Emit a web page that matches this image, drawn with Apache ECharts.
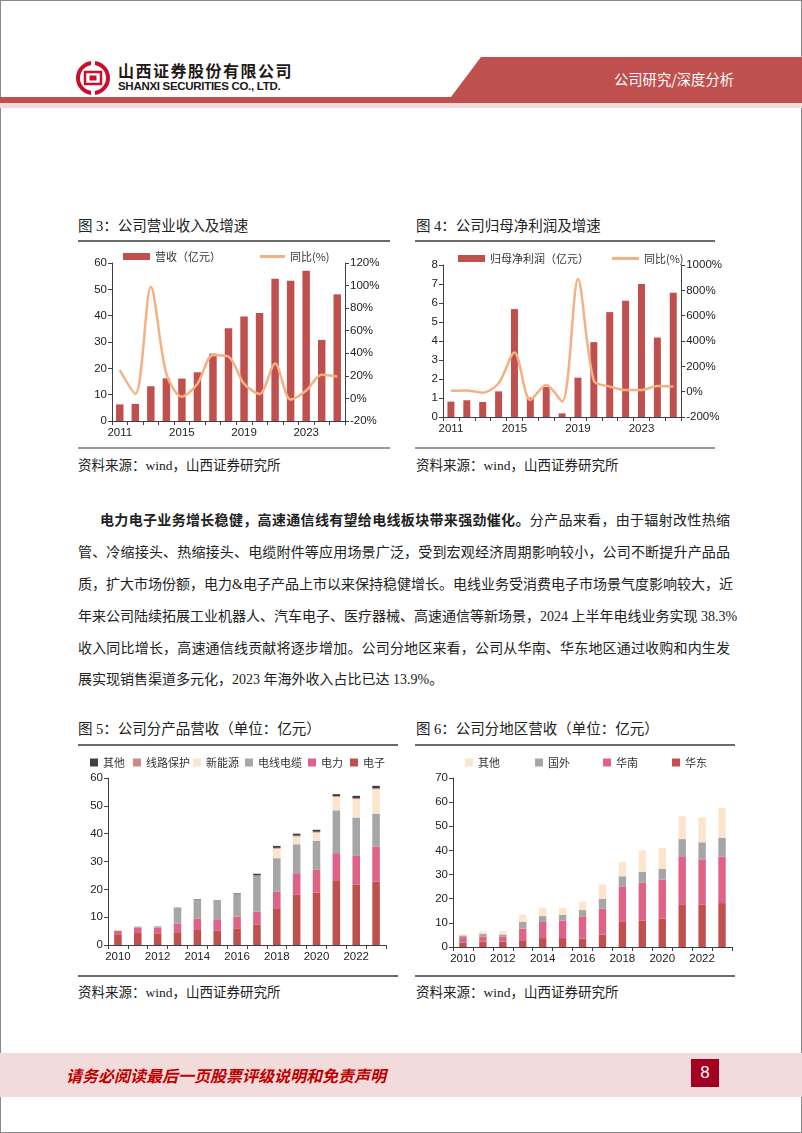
<!DOCTYPE html>
<html><head><meta charset="utf-8">
<script src="https://cdn.jsdelivr.net/npm/echarts@6/dist/echarts.min.js"></script>
<style>
html,body{margin:0;padding:0;}
body{width:802px;height:1133px;position:relative;background:#fff;overflow:hidden;font-family:"Liberation Serif","Noto Sans CJK SC",serif;color:#222;}
.frame{position:absolute;left:0;top:0;width:800px;height:1131px;border:1px solid #8a8a8a;}
.abs{position:absolute;}
.title{position:absolute;font-size:14.5px;line-height:16px;white-space:nowrap;}
.src{position:absolute;font-size:13.5px;line-height:16px;white-space:nowrap;}
.rule{position:absolute;height:2px;background:#6b6b6b;}
.rule2{position:absolute;height:2px;background:#9a9a9a;}
.para{position:absolute;left:78px;width:652px;font-size:14px;line-height:18px;white-space:nowrap;text-align:justify;text-align-last:justify;}
.chart{position:absolute;}
</style></head>
<body>
<div class="frame"></div>
<!-- header -->
<svg class="abs" style="left:0;top:0" width="802" height="112">
  <polygon points="481,57 802,57 802,97 451,97" fill="#c0504d"/>
  <rect x="0" y="97" width="802" height="6" fill="#c0504d"/>
  <rect x="0" y="103" width="802" height="5" fill="#f2dcdb"/>
  <g transform="translate(93,78)">
    <circle r="15" fill="none" stroke="#c8102e" stroke-width="4"/>
    <rect x="-9" y="-9" width="18" height="18" fill="#fff"/>
    <rect x="-8" y="-6" width="16" height="12" fill="none" stroke="#c8102e" stroke-width="2.5"/>
    <rect x="-3.5" y="-2.5" width="7" height="5" fill="#c8102e"/>
    <rect x="-2" y="-17" width="4" height="8" fill="#fff"/>
    <rect x="-2" y="9" width="4" height="8" fill="#fff"/>
  </g>
</svg>
<div class="abs" style="left:118px;top:61px;font-family:'Noto Sans CJK SC';font-weight:bold;font-size:16px;letter-spacing:1.5px;line-height:18px;color:#231815;white-space:nowrap;">山西证券股份有限公司</div>
<div class="abs" style="left:118px;top:80px;font-family:'Liberation Sans';font-weight:bold;font-size:11.5px;letter-spacing:-0.3px;line-height:13px;color:#231815;white-space:nowrap;">SHANXI SECURITIES CO., LTD.</div>
<div class="abs" style="left:614px;top:70px;font-family:'Noto Sans CJK SC';font-size:14.3px;line-height:18px;color:#fff;white-space:nowrap;">公司研究/深度分析</div>

<!-- figure 3 / 4 titles -->
<div class="title" style="left:78px;top:218px;">图 3：公司营业收入及增速</div>
<div class="title" style="left:416px;top:218px;">图 4：公司归母净利润及增速</div>
<div class="rule" style="left:78px;top:240px;width:312px;"></div>
<div class="rule" style="left:415px;top:240px;width:300px;"></div>
<div id="c1" class="chart" style="left:78px;top:242px;width:320px;height:205px;"></div>
<div id="c2" class="chart" style="left:415px;top:242px;width:310px;height:205px;"></div>
<div class="rule2" style="left:78px;top:447px;width:312px;"></div>
<div class="rule2" style="left:415px;top:447px;width:300px;"></div>
<div class="src" style="left:78px;top:458px;">资料来源：wind，山西证券研究所</div>
<div class="src" style="left:416px;top:458px;">资料来源：wind，山西证券研究所</div>

<!-- paragraph -->
<div class="para" style="top:512px;left:100px;width:630px;"><b>电力电子业务增长稳健，高速通信线有望给电线板块带来强劲催化。</b>分产品来看，由于辐射改性热缩</div>
<div class="para" style="top:544px;">管、冷缩接头、热缩接头、电缆附件等应用场景广泛，受到宏观经济周期影响较小，公司不断提升产品品</div>
<div class="para" style="top:576px;">质，扩大市场份额，电力&amp;电子产品上市以来保持稳健增长。电线业务受消费电子市场景气度影响较大，近</div>
<div class="para" style="top:608px;">年来公司陆续拓展工业机器人、汽车电子、医疗器械、高速通信等新场景，2024 上半年电线业务实现 38.3%</div>
<div class="para" style="top:640px;">收入同比增长，高速通信线贡献将逐步增加。公司分地区来看，公司从华南、华东地区通过收购和内生发</div>
<div class="para" style="top:671px;text-align:left;text-align-last:left;">展实现销售渠道多元化，2023 年海外收入占比已达 13.9%。</div>

<!-- figure 5 / 6 -->
<div class="title" style="left:78px;top:721px;">图 5：公司分产品营收（单位：亿元）</div>
<div class="title" style="left:416px;top:721px;">图 6：公司分地区营收（单位：亿元）</div>
<div class="rule" style="left:78px;top:744px;width:320px;"></div>
<div class="rule" style="left:415px;top:744px;width:320px;"></div>
<div id="c3" class="chart" style="left:78px;top:746px;width:320px;height:229px;"></div>
<div id="c4" class="chart" style="left:415px;top:746px;width:320px;height:229px;"></div>
<div class="rule" style="left:78px;top:975px;width:320px;"></div>
<div class="rule" style="left:415px;top:975px;width:320px;"></div>
<div class="src" style="left:78px;top:985px;">资料来源：wind，山西证券研究所</div>
<div class="src" style="left:416px;top:985px;">资料来源：wind，山西证券研究所</div>

<!-- footer -->
<div class="abs" style="left:0;top:1053px;width:802px;height:44px;background:#f2dcdb;"></div>
<div class="abs" style="left:66px;top:1065px;font-family:'Noto Sans CJK SC';font-weight:bold;font-style:italic;font-size:16px;line-height:20px;color:#c00000;white-space:nowrap;">请务必阅读最后一页股票评级说明和免责声明</div>
<div class="abs" style="left:691px;top:1059px;width:28px;height:28px;background:#a50021;color:#fff;font-family:'Liberation Sans';font-size:17px;line-height:28px;text-align:center;">8</div>

<script>
// ---------- data ----------
const revCategories = ['2011','2012','2013','2014','2015','2016','2017','2018','2019','2020','2021','2022','2023','2024H1','2024Q1-3'];
const revenue       = [6.3, 6.5, 13.2, 16.2, 16.1, 18.5, 25.6, 35.2, 39.7, 41.0, 54.0, 53.3, 57.1, 30.8, 48.1];
const revenueYoY    = [25, 4, 99, 22, 1.5, 13, 38.5, 37, 13, 4, 31, -1, 7, 21, 19.5];

const profitCategories = revCategories;
const netProfit     = [0.81, 0.88, 0.79, 1.35, 5.68, 1.02, 1.58, 0.19, 2.07, 3.94, 5.52, 6.12, 7.0, 4.18, 6.54];
const netProfitYoY  = [8, 10, -8, 66, 309, -66, 53, -79, 889, 87, 40, 13, 13, 45, 40];

const segYears = ['2010','2011','2012','2013','2014','2015','2016','2017','2018','2019','2020','2021','2022','2023'];
const prodElectronics = [3.6, 4.3, 4.2, 4.6, 5.4, 5.1, 5.8, 7.4, 13.2, 18.2, 18.8, 23.0, 21.6, 22.8];
const prodPower       = [1.5, 1.9, 2.1, 3.0, 4.0, 3.9, 4.4, 4.6, 6.0, 7.6, 8.2, 10.0, 10.4, 12.6];
const prodWire        = [0.1, 0.4, 0.4, 5.7, 6.8, 7.0, 8.2, 12.8, 12.0, 10.4, 10.4, 15.4, 13.8, 11.8];
const prodNewEnergy   = [0, 0, 0, 0, 0, 0, 0, 0, 3.4, 2.8, 3.0, 4.8, 6.6, 8.8];
const prodProtection  = [0, 0, 0, 0, 0, 0, 0, 0.2, 0.3, 0.3, 0.3, 0.3, 0.4, 0.3];
const prodOther       = [0, 0, 0, 0.1, 0.2, 0.1, 0.2, 0.6, 0.7, 0.7, 0.7, 0.7, 0.8, 0.9];

const regEast     = [1.8, 2.3, 2.3, 2.8, 3.7, 3.7, 3.5, 5.1, 10.4, 11.0, 11.7, 17.7, 17.5, 18.2];
const regSouth    = [2.3, 2.1, 2.1, 4.8, 6.7, 7.3, 9.2, 10.8, 14.5, 15.6, 16.2, 19.9, 18.8, 19.2];
const regOverseas = [0.7, 1.1, 0.8, 2.8, 2.4, 2.3, 2.6, 4.0, 4.4, 4.5, 4.4, 7.1, 7.1, 7.9];
const regOther    = [0.4, 1.0, 1.4, 3.0, 3.5, 2.8, 3.5, 6.0, 6.0, 8.9, 8.7, 9.4, 10.2, 12.3];

// ---------- styles ----------
const AX = '#404040';
const numFont = 'Liberation Sans, Arial, sans-serif';
const cjkFont = 'Noto Sans CJK SC, sans-serif';
const C_RED = '#c0504d', C_PINK = '#df6287', C_GRAY = '#a6a6a6', C_CREAM = '#fbe5cc', C_ROSE = '#c98a8a', C_DARK = '#404040', C_LINE = '#f4b183';
const pct = v => v + '%';

function catAxis(data, interval) {
  return {type:'category', data, axisLine:{lineStyle:{color:AX}},
    axisTick:{show:true, interval:0, length:4, lineStyle:{color:AX}},
    axisLabel:{interval, color:'#222', fontSize:11.5, fontFamily:numFont, margin:6}};
}
function valAxis(min, max, step, pos, fmt) {
  return {type:'value', min, max, interval:step, position:pos,
    axisLine:{show:true, lineStyle:{color:AX}},
    axisTick:{show:true, length:4, lineStyle:{color:AX}},
    splitLine:{show:false},
    axisLabel:{color:'#222', fontSize:11.5, fontFamily:numFont, margin:5, formatter:fmt || (v => String(v))}};
}
function leg(name, left, top, w, h) {
  return {data:[name], left, top, itemWidth:w, itemHeight:h, icon:'rect', padding:0,
    textStyle:{fontSize:11, fontFamily:cjkFont, color:'#333'}};
}

// chart 1
echarts.init(document.getElementById('c1')).setOption({
  animation:false,
  legend:[leg('营收（亿元）', 45, 9, 27, 7), leg('同比(%)', 182, 9, 25, 3)],
  grid:{left:34, right:53, top:21, bottom:26},
  xAxis:catAxis(revCategories, 3),
  yAxis:[valAxis(0, 60, 10, 'left'), valAxis(-20, 120, 20, 'right', pct)],
  series:[
    {type:'bar', name:'营收（亿元）', data:revenue, barWidth:'48%', itemStyle:{color:C_RED}},
    {type:'line', name:'同比(%)', yAxisIndex:1, data:revenueYoY, smooth:0.3, showSymbol:false, lineStyle:{width:2.5, color:C_LINE}, itemStyle:{color:C_LINE}}
  ]
});

// chart 2
echarts.init(document.getElementById('c2')).setOption({
  animation:false,
  legend:[leg('归母净利润（亿元）', 43, 11, 27, 7), leg('同比(%)', 197, 11, 27, 3)],
  grid:{left:28, right:42, top:23, bottom:30},
  xAxis:catAxis(profitCategories, 3),
  yAxis:[valAxis(0, 8, 1, 'left'), valAxis(-200, 1000, 200, 'right', pct)],
  series:[
    {type:'bar', name:'归母净利润（亿元）', data:netProfit, barWidth:'44%', itemStyle:{color:C_RED}},
    {type:'line', name:'同比(%)', yAxisIndex:1, data:netProfitYoY, smooth:0.3, showSymbol:false, lineStyle:{width:2.5, color:C_LINE}, itemStyle:{color:C_LINE}}
  ]
});

// chart 3
const c3Legend = [['其他',12],['线路保护',55],['新能源',115],['电线电缆',167],['电力',230],['电子',272]];
echarts.init(document.getElementById('c3')).setOption({
  animation:false,
  legend:c3Legend.map(([n,x]) => leg(n, x, 11, 8, 8)),
  grid:{left:30, right:12, top:32, bottom:30},
  xAxis:catAxis(segYears, 1),
  yAxis:valAxis(0, 60, 10, 'left'),
  series:[
    {type:'bar', name:'电子', stack:'p', data:prodElectronics, barWidth:'38%', itemStyle:{color:C_RED}},
    {type:'bar', name:'电力', stack:'p', data:prodPower, itemStyle:{color:C_PINK}},
    {type:'bar', name:'电线电缆', stack:'p', data:prodWire, itemStyle:{color:C_GRAY}},
    {type:'bar', name:'新能源', stack:'p', data:prodNewEnergy, itemStyle:{color:C_CREAM}},
    {type:'bar', name:'线路保护', stack:'p', data:prodProtection, itemStyle:{color:C_ROSE}},
    {type:'bar', name:'其他', stack:'p', data:prodOther, itemStyle:{color:C_DARK}}
  ]
});

// chart 4
const c4Legend = [['其他',50],['国外',120],['华南',188],['华东',257]];
echarts.init(document.getElementById('c4')).setOption({
  animation:false,
  legend:c4Legend.map(([n,x]) => leg(n, x, 11, 8, 8)),
  grid:{left:38, right:3, top:32, bottom:28},
  xAxis:catAxis(segYears, 1),
  yAxis:valAxis(0, 70, 10, 'left'),
  series:[
    {type:'bar', name:'华东', stack:'r', data:regEast, barWidth:'37%', itemStyle:{color:C_RED}},
    {type:'bar', name:'华南', stack:'r', data:regSouth, itemStyle:{color:C_PINK}},
    {type:'bar', name:'国外', stack:'r', data:regOverseas, itemStyle:{color:C_GRAY}},
    {type:'bar', name:'其他', stack:'r', data:regOther, itemStyle:{color:C_CREAM}}
  ]
});
</script>
</body></html>
